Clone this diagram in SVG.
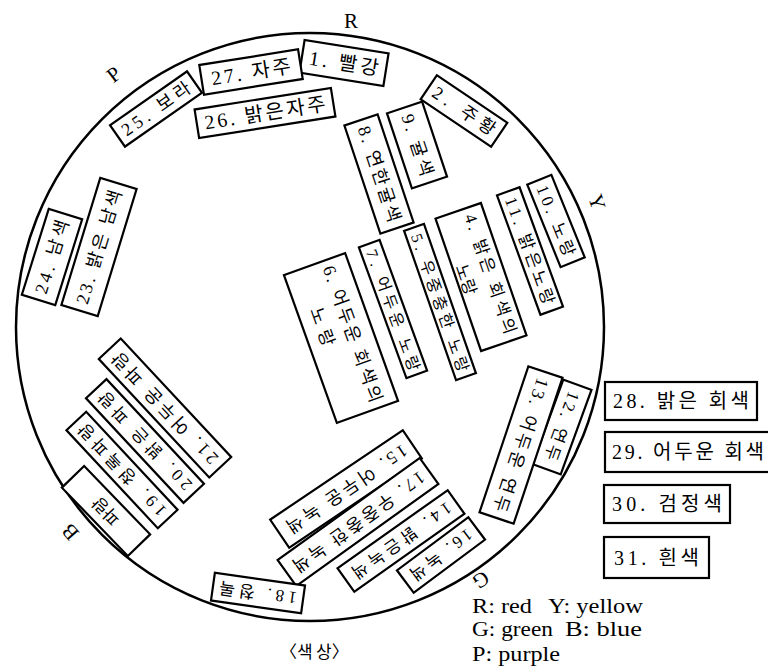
<svg xmlns="http://www.w3.org/2000/svg" width="768" height="672" viewBox="0 0 768 672">
<style>
.b rect{fill:#fff;stroke:#000;stroke-width:2.2}
text{font-family:"Liberation Serif","Noto Sans CJK KR",serif;fill:#000}
.k{font-size:18px}
.s{font-size:16px}
.m{font-size:17px}
.L{font-size:20px}
.lg{font-size:22px}
.ax{font-size:21px}
</style>
<rect width="768" height="672" fill="#fff"/>
<circle cx="310" cy="327" r="294" fill="none" stroke="#000" stroke-width="2.5"/>
<g id="labels">
<text class="ax" x="351" y="28" text-anchor="middle">R</text>
<text class="ax" transform="translate(118,80) rotate(-38)" text-anchor="middle">P</text>
<text class="ax" transform="translate(597,202) rotate(72)" text-anchor="middle" dy="7">Y</text>
<text class="ax" transform="translate(481,580) rotate(146)" text-anchor="middle" dy="7">G</text>
<text class="ax" transform="translate(70,532) rotate(229)" text-anchor="middle" dy="7">B</text>
</g>
<g id="n1" class="b" transform="translate(344,63) rotate(9)"><rect x="-42.5" y="-16.5" width="85" height="33"/><text class="L" x="-35" y="7" textLength="70" lengthAdjust="spacing">1. 빨강</text></g>
<g id="n27" class="b" transform="translate(251,72) rotate(-9)"><rect x="-50" y="-15" width="100" height="30"/><text class="L" x="-40" y="7" textLength="80" lengthAdjust="spacing">27. 자주</text></g>
<g id="n26" class="b" transform="translate(265,113) rotate(-9)"><rect x="-69" y="-14.5" width="138" height="29"/><text class="L" x="-61" y="7" textLength="122" lengthAdjust="spacing">26. 밝은자주</text></g>
<g id="n25" class="b" transform="translate(156,109) rotate(-35)"><rect x="-47" y="-13" width="94" height="26"/><text class="k" x="-40" y="6" textLength="80" lengthAdjust="spacing">25. 보라</text></g>
<g id="n2" class="b" transform="translate(464,111) rotate(34)"><rect x="-42.5" y="-14.5" width="85" height="29"/><text class="k" x="-36" y="6" textLength="72" lengthAdjust="spacing">2. 주황</text></g>
<g id="n8" class="b" transform="translate(379,174) rotate(71.6)"><rect x="-57" y="-17.5" width="114" height="35"/><text class="k" x="-50" y="6" textLength="100" lengthAdjust="spacing">8. 연한귤색</text></g>
<g id="n9" class="b" transform="translate(417,145) rotate(71.6)"><rect x="-39.5" y="-18.5" width="79" height="37"/><text class="k" x="-32" y="6" textLength="64" lengthAdjust="spacing">9. 귤색</text></g>
<g id="n10" class="b" transform="translate(556,221) rotate(68)"><rect x="-44.5" y="-13" width="89" height="26"/><text class="m" x="-38" y="6" textLength="75" lengthAdjust="spacing">10. 노랑</text></g>
<g id="n11" class="b" transform="translate(530,251) rotate(70)"><rect x="-63.5" y="-12" width="127" height="24"/><text class="m" x="-57" y="6" textLength="113" lengthAdjust="spacing">11. 밝은노랑</text></g>
<g id="n4" class="b" transform="translate(481,277) rotate(71)"><rect x="-70" y="-24" width="140" height="48"/><text class="m" x="-63" y="-4" textLength="126" lengthAdjust="spacing">4. 밝은 회색의</text><text class="m" x="-18" y="21">노랑</text></g>
<g id="n5" class="b" transform="translate(440,302) rotate(70.8)"><rect x="-79" y="-10.5" width="158" height="21"/><text class="s" x="-72" y="6" textLength="145" lengthAdjust="spacing">5. 우중충한 노랑</text></g>
<g id="n7" class="b" transform="translate(393,309) rotate(70)"><rect x="-69.5" y="-11" width="139" height="22"/><text class="s" x="-63" y="6" textLength="128" lengthAdjust="spacing">7. 어두운 노랑</text></g>
<g id="n6" class="b" transform="translate(341,338) rotate(70.3)"><rect x="-78.5" y="-32.5" width="157" height="65"/><text class="k" x="-72" y="-6" textLength="144" lengthAdjust="spacing">6. 어두운 회색의</text><text class="k" x="-37" y="20" textLength="40" lengthAdjust="spacing">노랑</text></g>
<g id="n12" class="b" transform="translate(562,427) rotate(110)"><rect x="-45" y="-15" width="90" height="30"/><text class="m" x="-37" y="6" textLength="72" lengthAdjust="spacing">12. 연두</text></g>
<g id="n13" class="b" transform="translate(521,445) rotate(108.5)"><rect x="-77" y="-18" width="154" height="36"/><text class="k" x="-70" y="6" textLength="140" lengthAdjust="spacing">13. 어두운 연두</text></g>
<g id="n15" class="b" transform="translate(346,489) rotate(146)"><rect x="-80" y="-17" width="160" height="34"/><text class="k" x="-72" y="6" textLength="142" lengthAdjust="spacing">15. 어두운 녹색</text></g>
<g id="n17" class="b" transform="translate(358,522) rotate(144.3)"><rect x="-87.5" y="-16" width="175" height="32"/><text class="k" x="-80" y="6" textLength="158" lengthAdjust="spacing">17. 우중충한 녹색</text></g>
<g id="n14" class="b" transform="translate(401,541) rotate(144.7)"><rect x="-67.5" y="-14.5" width="135" height="29"/><text class="m" x="-60" y="6" textLength="118" lengthAdjust="spacing">14. 밝은녹색</text></g>
<g id="n16" class="b" transform="translate(441,555) rotate(143.3)"><rect x="-44.5" y="-14" width="89" height="28"/><text class="m" x="-37" y="6" textLength="73" lengthAdjust="spacing">16. 녹색</text></g>
<g id="n18" class="b" transform="translate(258,593) rotate(188)"><rect x="-45.5" y="-14" width="91" height="28"/><text class="m" x="-39" y="6" textLength="78" lengthAdjust="spacing">18. 청록</text></g>
<g id="n21" class="b" transform="translate(165,408) rotate(227)"><rect x="-81" y="-15" width="162" height="30"/><text class="k" x="-73" y="6" textLength="146" lengthAdjust="spacing">21. 어두운 파랑</text></g>
<g id="n20" class="b" transform="translate(145,441) rotate(227)"><rect x="-71.5" y="-14" width="143" height="28"/><text class="m" x="-64" y="6" textLength="128" lengthAdjust="spacing">20. 밝은 파랑</text></g>
<g id="n19" class="b" transform="translate(122,470) rotate(227)"><rect x="-67" y="-13.5" width="134" height="27"/><text class="m" x="-60" y="6" textLength="120" lengthAdjust="spacing">19. 청록파랑</text></g>
<g id="n22" class="b" transform="translate(106,511) rotate(226)"><rect x="-47.5" y="-15.5" width="95" height="31"/><text class="m" x="0" y="6" text-anchor="middle">파랑</text></g>
<g id="n23" class="b" transform="translate(99,247) rotate(-73)"><rect x="-66.5" y="-19" width="133" height="38"/><text class="k" x="-59" y="6" textLength="118" lengthAdjust="spacing">23. 밝은 남색</text></g>
<g id="n24" class="b" transform="translate(52,257) rotate(-72.6)"><rect x="-45" y="-17.5" width="90" height="35"/><text class="k" x="-38" y="6" textLength="76" lengthAdjust="spacing">24. 남색</text></g>
<g id="n28" class="b"><rect x="605" y="382" width="152" height="38"/><text class="L" x="613" y="408" textLength="136" lengthAdjust="spacing">28. 밝은 회색</text></g>
<g id="n29" class="b"><rect x="605" y="432" width="170" height="40"/><text class="L" x="612" y="459" textLength="152" lengthAdjust="spacing">29. 어두운 회색</text></g>
<g id="n30" class="b"><rect x="604" y="485" width="126" height="38"/><text class="L" x="612" y="511" textLength="110" lengthAdjust="spacing">30. 검정색</text></g>
<g id="n31" class="b"><rect x="604" y="537" width="105" height="41"/><text class="L" x="614" y="565" textLength="85" lengthAdjust="spacing">31. 흰색</text></g>
<g id="legend">
<text class="lg" x="472" y="613" textLength="60" lengthAdjust="spacingAndGlyphs">R: red</text>
<text class="lg" x="548" y="613" textLength="95" lengthAdjust="spacingAndGlyphs">Y: yellow</text>
<text class="lg" x="472" y="636" textLength="81" lengthAdjust="spacingAndGlyphs">G: green</text>
<text class="lg" x="565" y="636" textLength="77" lengthAdjust="spacingAndGlyphs">B: blue</text>
<text class="lg" x="472" y="661" textLength="88" lengthAdjust="spacingAndGlyphs">P: purple</text>
<text x="280" y="658" font-size="17">〈색</text>
<text x="316" y="658" font-size="17">상〉</text>
</g>
</svg>
